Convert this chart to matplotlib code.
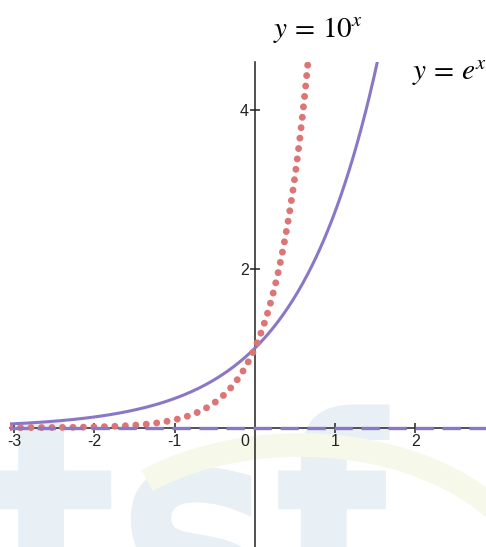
import numpy as np
import matplotlib
matplotlib.use("Agg")
import matplotlib.pyplot as plt
from matplotlib.patches import Arc, PathPatch
from matplotlib.textpath import TextPath
from matplotlib.font_manager import FontProperties
from matplotlib.transforms import Affine2D

# Axis ranges and tick marks
x_min, x_max = -3.05, 2.88
y_min, y_max = -1.5, 4.6
x_ticks = [-3, -2, -1, 1, 2]
x_tick_labels = ["-3", "-2", "-1", "1", "2"]
y_ticks = [2, 4]
y_tick_labels = ["2", "4"]

# Exponential curves y = e^x and y = 10^x, and their asymptote y = 0
bases = {"e": np.e, "10": 10.0}
asymptote = 0.0
xs = np.linspace(x_min, x_max, 800)
y_e = np.power(bases["e"], xs)
y_10 = np.power(bases["10"], xs)

purple = "#8a77c6"
red = "#dc7676"
ink = "#222222"

W, H = 486, 547
fig = plt.figure(figsize=(W / 100, H / 100), dpi=100)
fig.patch.set_facecolor("white")

# Faint background logo, in pixel coordinates (y grows downward)
bg = fig.add_axes([0, 0, 1, 1], zorder=-1)
bg.set_xlim(0, W)
bg.set_ylim(H, 0)
bg.axis("off")
logo = TextPath((0, 0), "tsf", size=1,
                prop=FontProperties(family="DejaVu Sans", weight="bold"))
logo_tf = Affine2D().scale(262, -310).translate(-8, 640)
bg.add_patch(PathPatch(logo_tf.transform_path(logo), facecolor="#e9f0f5",
                       edgecolor="none"))
bg.add_patch(Arc((300, 600), 480, 310, theta1=218, theta2=350,
                 lw=17, color="#f6f9ea"))

ax_left = 10 / W
ax_top = 1 - 62 / H
ax = fig.add_axes([ax_left, 0, 1 - ax_left, ax_top])
ax.set_xlim(x_min, x_max)
ax.set_ylim(y_min, y_max)
ax.set_facecolor("none")

# Curves
ax.plot(xs, y_e, color=purple, lw=2.2, solid_capstyle="round", zorder=3)
ax.plot(xs, y_10, color=red, lw=5.0, linestyle=(0, (0.01, 1.5)),
        dash_capstyle="round", zorder=4)
ax.axhline(asymptote, color=purple, lw=2.4, linestyle=(0, (5.5, 2.6)),
           zorder=5)

# Axes through the origin
for side in ("top", "right"):
    ax.spines[side].set_visible(False)
ax.spines["left"].set_position(("data", 0))
ax.spines["bottom"].set_position(("data", 0))
for side in ("left", "bottom"):
    ax.spines[side].set_linewidth(1.1)
    ax.spines[side].set_color(ink)
    ax.spines[side].set_zorder(2)

ax.set_xticks(x_ticks)
ax.set_xticklabels(x_tick_labels)
ax.set_yticks(y_ticks)
ax.set_yticklabels(y_tick_labels)
ax.tick_params(axis="both", direction="inout", length=7, width=1.1,
               color=ink, labelsize=11.5, pad=1)
for lab in ax.get_xticklabels() + ax.get_yticklabels():
    lab.set_family("Liberation Sans")
    lab.set_color(ink)
ax.text(-0.07, -0.08, "0", ha="right", va="top", fontsize=11.5,
        family="Liberation Sans", color=ink)

# Curve labels
plt.rcParams["mathtext.fontset"] = "stix"
fig.text(273 / W, 1 - 37 / H, r"$y\,=\,10^{x}$", fontsize=21, color="black",
         ha="left", va="baseline")
fig.text(412 / W, 1 - 80 / H, r"$y\,=\,e^{x}$", fontsize=21, color="black",
         ha="left", va="baseline")

fig.savefig("out.png", dpi=100, facecolor="white")
